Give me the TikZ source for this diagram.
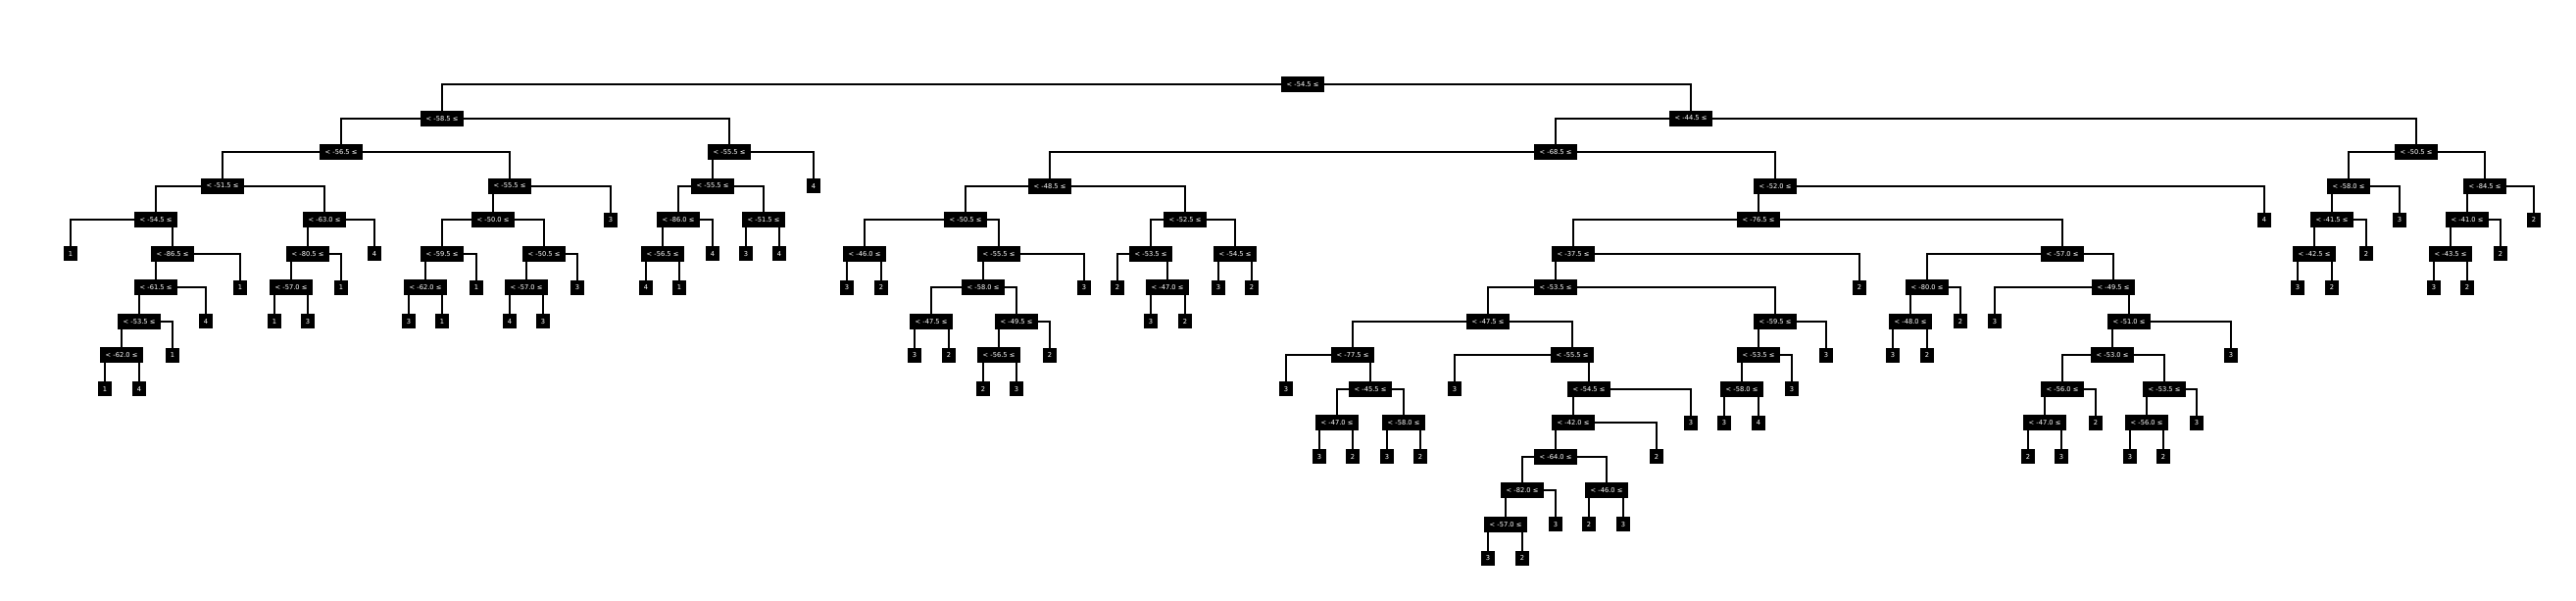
\documentclass[tikz,border=0pt]{standalone}
\usepackage{fontspec}
\setmainfont{DejaVu Sans}
\usetikzlibrary{backgrounds}

\tikzset{
  split/.style={fill=black, text=white, inner sep=0pt, minimum width=4.4mm, minimum height=1.6mm, font=\fontsize{1.9}{2.2}\selectfont},
  leaf/.style={split, minimum width=1.4mm, minimum height=1.5mm},
  branch/.style={line width=0.55pt}
}

\begin{document}
\begin{tikzpicture}[x=0.01cm, y=-0.345cm]
\useasboundingbox (0,-2.4928) rectangle (2628,15.2464);

% root
\node[split] (t) at (1329,0) {< -54.5 ≤};

% left half
\node[split] (a) at (451,1) {< -58.5 ≤};
\node[split] (a1) at (348,2) {< -56.5 ≤};
\node[split] (a11) at (227,3) {< -51.5 ≤};
\node[split] (a111) at (159,4) {< -54.5 ≤};
\node[leaf] (a1111) at (72,5) {1};
\node[split] (a1112) at (176,5) {< -86.5 ≤};
\node[split] (a11121) at (159,6) {< -61.5 ≤};
\node[split] (a111211) at (142,7) {< -53.5 ≤};
\node[split] (a1112111) at (124,8) {< -62.0 ≤};
\node[leaf] (a11121111) at (107,9) {1};
\node[leaf] (a11121112) at (142,9) {4};
\node[leaf] (a1112112) at (176,8) {1};
\node[leaf] (a111212) at (210,7) {4};
\node[leaf] (a11122) at (245,6) {1};
\node[split] (a112) at (331,4) {< -63.0 ≤};
\node[split] (a1121) at (314,5) {< -80.5 ≤};
\node[split] (a11211) at (297,6) {< -57.0 ≤};
\node[leaf] (a112111) at (280,7) {1};
\node[leaf] (a112112) at (314,7) {3};
\node[leaf] (a11212) at (348,6) {1};
\node[leaf] (a1122) at (382,5) {4};
\node[split] (a12) at (520,3) {< -55.5 ≤};
\node[split] (a121) at (503,4) {< -50.0 ≤};
\node[split] (a1211) at (451,5) {< -59.5 ≤};
\node[split] (a12111) at (434,6) {< -62.0 ≤};
\node[leaf] (a121111) at (417,7) {3};
\node[leaf] (a121112) at (451,7) {1};
\node[leaf] (a12112) at (486,6) {1};
\node[split] (a1212) at (555,5) {< -50.5 ≤};
\node[split] (a12121) at (537,6) {< -57.0 ≤};
\node[leaf] (a121211) at (520,7) {4};
\node[leaf] (a121212) at (554,7) {3};
\node[leaf] (a12122) at (589,6) {3};
\node[leaf] (a122) at (623,4) {3};
\node[split] (a2) at (744,2) {< -55.5 ≤};
\node[split] (a21) at (727,3) {< -55.5 ≤};
\node[split] (a211) at (692,4) {< -86.0 ≤};
\node[split] (a2111) at (676,5) {< -56.5 ≤};
\node[leaf] (a21111) at (659,6) {4};
\node[leaf] (a21112) at (693,6) {1};
\node[leaf] (a2112) at (727,5) {4};
\node[split] (a212) at (779,4) {< -51.5 ≤};
\node[leaf] (a2121) at (761,5) {3};
\node[leaf] (a2122) at (795,5) {4};
\node[leaf] (a22) at (830,3) {4};

% right half
\node[split] (b) at (1725,1) {< -44.5 ≤};
\node[split] (b1) at (1587,2) {< -68.5 ≤};
\node[split] (b11) at (1071,3) {< -48.5 ≤};
\node[split] (b111) at (985,4) {< -50.5 ≤};
\node[split] (b1111) at (882,5) {< -46.0 ≤};
\node[leaf] (b11111) at (864,6) {3};
\node[leaf] (b11112) at (899,6) {2};
\node[split] (b1112) at (1019,5) {< -55.5 ≤};
\node[split] (b11121) at (1003,6) {< -58.0 ≤};
\node[split] (b111211) at (950,7) {< -47.5 ≤};
\node[leaf] (b1112111) at (933,8) {3};
\node[leaf] (b1112112) at (968,8) {2};
\node[split] (b111212) at (1037,7) {< -49.5 ≤};
\node[split] (b1112121) at (1019,8) {< -56.5 ≤};
\node[leaf] (b11121211) at (1003,9) {2};
\node[leaf] (b11121212) at (1037,9) {3};
\node[leaf] (b1112122) at (1071,8) {2};
\node[leaf] (b11122) at (1106,6) {3};
\node[split] (b112) at (1209,4) {< -52.5 ≤};
\node[split] (b1121) at (1174,5) {< -53.5 ≤};
\node[leaf] (b11211) at (1140,6) {2};
\node[split] (b11212) at (1191,6) {< -47.0 ≤};
\node[leaf] (b112121) at (1174,7) {3};
\node[leaf] (b112122) at (1209,7) {2};
\node[split] (b1122) at (1260,5) {< -54.5 ≤};
\node[leaf] (b11221) at (1243,6) {3};
\node[leaf] (b11222) at (1277,6) {2};
\node[split] (b12) at (1811,3) {< -52.0 ≤};
\node[split] (b121) at (1794,4) {< -76.5 ≤};
\node[split] (b1211) at (1605,5) {< -37.5 ≤};
\node[split] (b12111) at (1587,6) {< -53.5 ≤};
\node[split] (b121111) at (1518,7) {< -47.5 ≤};
\node[split] (b1211111) at (1380,8) {< -77.5 ≤};
\node[leaf] (b12111111) at (1312,9) {3};
\node[split] (b12111112) at (1398,9) {< -45.5 ≤};
\node[split] (b121111121) at (1364,10) {< -47.0 ≤};
\node[leaf] (b1211111211) at (1346,11) {3};
\node[leaf] (b1211111212) at (1380,11) {2};
\node[split] (b121111122) at (1432,10) {< -58.0 ≤};
\node[leaf] (b1211111221) at (1415,11) {3};
\node[leaf] (b1211111222) at (1449,11) {2};
\node[split] (b1211112) at (1604,8) {< -55.5 ≤};
\node[leaf] (b12111121) at (1484,9) {3};
\node[split] (b12111122) at (1621,9) {< -54.5 ≤};
\node[split] (b121111221) at (1605,10) {< -42.0 ≤};
\node[split] (b1211112211) at (1587,11) {< -64.0 ≤};
\node[split] (b12111122111) at (1553,12) {< -82.0 ≤};
\node[split] (b121111221111) at (1536,13) {< -57.0 ≤};
\node[leaf] (b1211112211111) at (1518,14) {3};
\node[leaf] (b1211112211112) at (1553,14) {2};
\node[leaf] (b121111221112) at (1587,13) {3};
\node[split] (b12111122112) at (1639,12) {< -46.0 ≤};
\node[leaf] (b121111221121) at (1621,13) {2};
\node[leaf] (b121111221122) at (1656,13) {3};
\node[leaf] (b1211112212) at (1690,11) {2};
\node[leaf] (b121111222) at (1725,10) {3};
\node[split] (b121112) at (1811,7) {< -59.5 ≤};
\node[split] (b1211121) at (1794,8) {< -53.5 ≤};
\node[split] (b12111211) at (1777,9) {< -58.0 ≤};
\node[leaf] (b121112111) at (1759,10) {3};
\node[leaf] (b121112112) at (1794,10) {4};
\node[leaf] (b12111212) at (1828,9) {3};
\node[leaf] (b1211122) at (1863,8) {3};
\node[leaf] (b12112) at (1897,6) {2};
\node[split] (b1212) at (2104,5) {< -57.0 ≤};
\node[split] (b12121) at (1966,6) {< -80.0 ≤};
\node[split] (b121211) at (1949,7) {< -48.0 ≤};
\node[leaf] (b1212111) at (1931,8) {3};
\node[leaf] (b1212112) at (1966,8) {2};
\node[leaf] (b121212) at (2000,7) {2};
\node[split] (b12122) at (2156,6) {< -49.5 ≤};
\node[leaf] (b121221) at (2035,7) {3};
\node[split] (b121222) at (2172,7) {< -51.0 ≤};
\node[split] (b1212221) at (2155,8) {< -53.0 ≤};
\node[split] (b12122211) at (2104,9) {< -56.0 ≤};
\node[split] (b121222111) at (2086,10) {< -47.0 ≤};
\node[leaf] (b1212221111) at (2069,11) {2};
\node[leaf] (b1212221112) at (2103,11) {3};
\node[leaf] (b121222112) at (2138,10) {2};
\node[split] (b12122212) at (2208,9) {< -53.5 ≤};
\node[split] (b121222121) at (2190,10) {< -56.0 ≤};
\node[leaf] (b1212221211) at (2173,11) {3};
\node[leaf] (b1212221212) at (2207,11) {2};
\node[leaf] (b121222122) at (2241,10) {3};
\node[leaf] (b1212222) at (2276,8) {3};
\node[leaf] (b122) at (2310,4) {4};
\node[split] (b2) at (2465,2) {< -50.5 ≤};
\node[split] (b21) at (2396,3) {< -58.0 ≤};
\node[split] (b211) at (2379,4) {< -41.5 ≤};
\node[split] (b2111) at (2361,5) {< -42.5 ≤};
\node[leaf] (b21111) at (2344,6) {3};
\node[leaf] (b21112) at (2379,6) {2};
\node[leaf] (b2112) at (2414,5) {2};
\node[leaf] (b212) at (2448,4) {3};
\node[split] (b22) at (2535,3) {< -84.5 ≤};
\node[split] (b221) at (2517,4) {< -41.0 ≤};
\node[split] (b2211) at (2500,5) {< -43.5 ≤};
\node[leaf] (b22111) at (2483,6) {3};
\node[leaf] (b22112) at (2517,6) {2};
\node[leaf] (b2212) at (2551,5) {2};
\node[leaf] (b222) at (2585,4) {2};

% connectors, behind the boxes
\begin{scope}[on background layer]
\foreach \p/\c in {t/a, t/b,
  a/a1, a/a2, a1/a11, a1/a12, a11/a111, a11/a112, a111/a1111, a111/a1112,
  a1112/a11121, a1112/a11122, a11121/a111211, a11121/a111212,
  a111211/a1112111, a111211/a1112112, a1112111/a11121111, a1112111/a11121112,
  a112/a1121, a112/a1122, a1121/a11211, a1121/a11212, a11211/a112111, a11211/a112112,
  a12/a121, a12/a122, a121/a1211, a121/a1212, a1211/a12111, a1211/a12112,
  a12111/a121111, a12111/a121112, a1212/a12121, a1212/a12122,
  a12121/a121211, a12121/a121212,
  a2/a21, a2/a22, a21/a211, a21/a212, a211/a2111, a211/a2112,
  a2111/a21111, a2111/a21112, a212/a2121, a212/a2122}
  \draw[branch] (\p.center) -| (\c.center);
\foreach \p/\c in {b/b1, b/b2, b1/b11, b1/b12,
  b11/b111, b11/b112, b111/b1111, b111/b1112, b1111/b11111, b1111/b11112,
  b1112/b11121, b1112/b11122, b11121/b111211, b11121/b111212,
  b111211/b1112111, b111211/b1112112, b111212/b1112121, b111212/b1112122,
  b1112121/b11121211, b1112121/b11121212,
  b112/b1121, b112/b1122, b1121/b11211, b1121/b11212, b11212/b112121, b11212/b112122,
  b1122/b11221, b1122/b11222,
  b12/b121, b12/b122, b121/b1211, b121/b1212, b1211/b12111, b1211/b12112,
  b12111/b121111, b12111/b121112, b121111/b1211111, b121111/b1211112,
  b1211111/b12111111, b1211111/b12111112, b12111112/b121111121, b12111112/b121111122,
  b121111121/b1211111211, b121111121/b1211111212, b121111122/b1211111221, b121111122/b1211111222,
  b1211112/b12111121, b1211112/b12111122, b12111122/b121111221, b12111122/b121111222,
  b121111221/b1211112211, b121111221/b1211112212,
  b1211112211/b12111122111, b1211112211/b12111122112,
  b12111122111/b121111221111, b12111122111/b121111221112,
  b121111221111/b1211112211111, b121111221111/b1211112211112,
  b12111122112/b121111221121, b12111122112/b121111221122,
  b121112/b1211121, b121112/b1211122, b1211121/b12111211, b1211121/b12111212,
  b12111211/b121112111, b12111211/b121112112,
  b1212/b12121, b1212/b12122, b12121/b121211, b12121/b121212,
  b121211/b1212111, b121211/b1212112, b12122/b121221, b12122/b121222,
  b121222/b1212221, b121222/b1212222, b1212221/b12122211, b1212221/b12122212,
  b12122211/b121222111, b12122211/b121222112, b121222111/b1212221111, b121222111/b1212221112,
  b12122212/b121222121, b12122212/b121222122, b121222121/b1212221211, b121222121/b1212221212,
  b2/b21, b2/b22, b21/b211, b21/b212, b211/b2111, b211/b2112, b2111/b21111, b2111/b21112,
  b22/b221, b22/b222, b221/b2211, b221/b2212, b2211/b22111, b2211/b22112}
  \draw[branch] (\p.center) -| (\c.center);
\end{scope}
\end{tikzpicture}
\end{document}
